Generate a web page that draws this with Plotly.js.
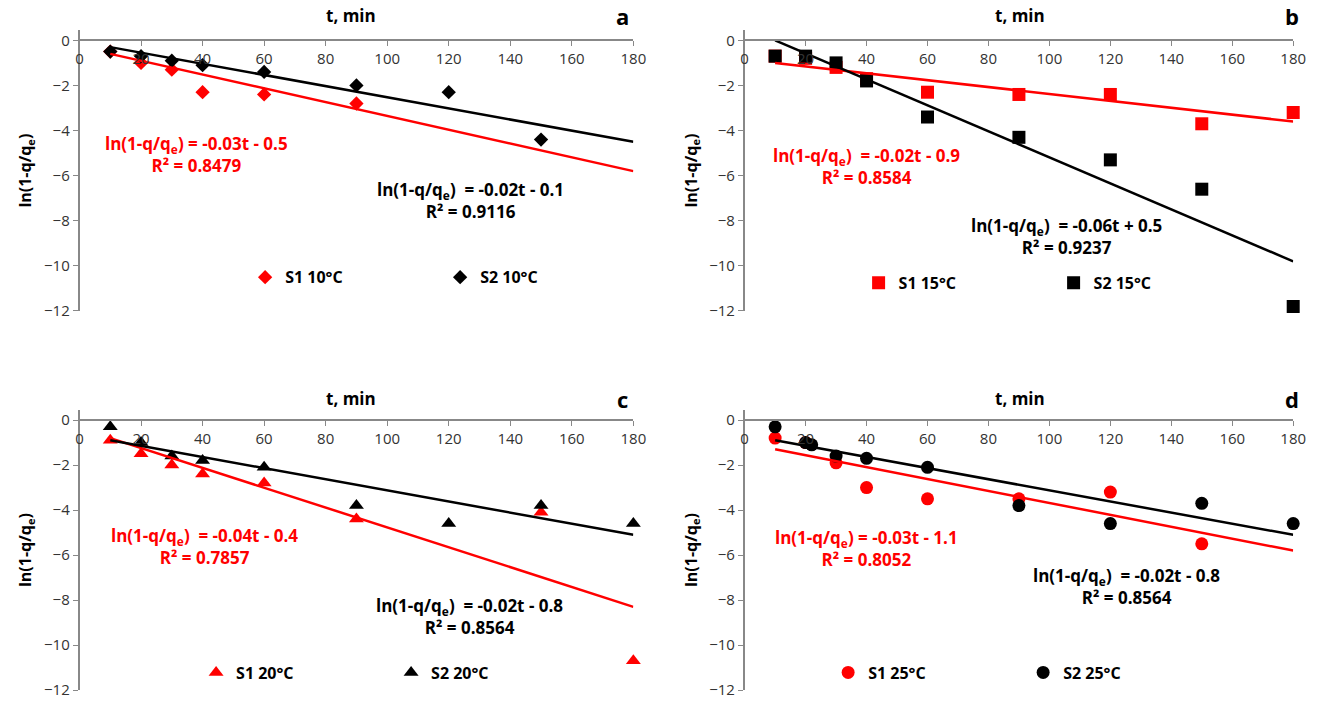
<!DOCTYPE html>
<html><head><meta charset="utf-8">
<script src="https://cdn.plot.ly/plotly-3.0.0.min.js"></script>
<style>body{margin:0}#graph{width:1325px;height:702px}</style>
</head><body><div id="graph"></div>
<script>
const tA1 = [10, 20, 30, 40, 60, 90];
const yA1 = [-0.5, -1.0, -1.3, -2.3, -2.4, -2.8];
const tA2 = [10, 20, 30, 40, 60, 90, 120, 150];
const yA2 = [-0.5, -0.7, -0.9, -1.1, -1.4, -2.0, -2.3, -4.4];
const tB = [10, 20, 30, 40, 60, 90, 120, 150, 180];
const yB1 = [-0.7, -0.8, -1.2, -1.7, -2.3, -2.4, -2.4, -3.7, -3.2];
const yB2 = [-0.7, -0.7, -1.0, -1.8, -3.4, -4.3, -5.3, -6.6, -11.8];
const tC1 = [10, 20, 30, 40, 60, 90, 150, 180];
const yC1 = [-0.9, -1.5, -2.0, -2.4, -2.8, -4.4, -4.1, -10.7];
const tC2 = [10, 20, 30, 40, 60, 90, 120, 150, 180];
const yC2 = [-0.3, -1.0, -1.6, -1.8, -2.1, -3.8, -4.6, -3.8, -4.6];
const tD1 = [10, 20, 30, 40, 60, 90, 120, 150];
const yD1 = [-0.8, -1.0, -1.9, -3.0, -3.5, -3.5, -3.2, -5.5];
const tD2 = [10, 20, 22, 30, 40, 60, 90, 120, 150, 180];
const yD2 = [-0.3, -1.0, -1.1, -1.6, -1.7, -2.1, -3.8, -4.6, -3.7, -4.6];
// trend line end points [t0, t1], [y0, y1]
const trendT = [10, 180];
const trA1 = [-0.6, -5.8], trA2 = [-0.3, -4.5];
const trB1 = [-1.0, -3.6], trB2 = [0.0, -9.8];
const trC1 = [-0.8, -8.3], trC2 = [-0.9, -5.1];
const trD1 = [-1.3, -5.8], trD2 = [-0.9, -5.1];
const xTicks = [0, 20, 40, 60, 80, 100, 120, 140, 160, 180];
const yTicks = [0, -2, -4, -6, -8, -10, -12];

const RED = "#ff0000", BLK = "#000000";
const traces = [];
function pts(x, y, name, color, symbol, ax, leg) {
  traces.push({x, y, name, type: "scatter", mode: "markers", xaxis: "x" + ax, yaxis: "y" + ax,
    legend: leg, marker: {color, symbol, size: symbol === "diamond" ? 11 : 13}, cliponaxis: false});
}
function line(y, color, ax) {
  traces.push({x: trendT, y, type: "scatter", mode: "lines", xaxis: "x" + ax, yaxis: "y" + ax,
    showlegend: false, line: {color, width: 2.5}});
}
pts(tA1, yA1, "S1 10°C", RED, "diamond", "", "legend");
pts(tA2, yA2, "S2 10°C", BLK, "diamond", "", "legend");
line(trA1, RED, ""); line(trA2, BLK, "");
pts(tB, yB1, "S1 15°C", RED, "square", "2", "legend2");
pts(tB, yB2, "S2 15°C", BLK, "square", "2", "legend2");
line(trB1, RED, "2"); line(trB2, BLK, "2");
pts(tC1, yC1, "S1 20°C", RED, "triangle-up", "3", "legend3");
pts(tC2, yC2, "S2 20°C", BLK, "triangle-up", "3", "legend3");
line(trC1, RED, "3"); line(trC2, BLK, "3");
pts(tD1, yD1, "S1 25°C", RED, "circle", "4", "legend4");
pts(tD2, yD2, "S2 25°C", BLK, "circle", "4", "legend4");
line(trD1, RED, "4"); line(trD2, BLK, "4");

const F = "Open Sans, Arial, sans-serif";
const yRange = [-12, 0.45];
const dom = {x1: [0.06, 0.478], x2: [0.562, 0.976], yt: [0.557, 0.957], yb: [0.017, 0.416]};
function zeroPos(d) { return d[0] + (d[1] - d[0]) * (12 / 12.45); }
function xa(d, yd, anchorY) {
  return {domain: d, range: [0, 180], tickvals: xTicks, anchor: "free", overlaying: undefined,
    position: zeroPos(yd), showline: true, linecolor: "#888", linewidth: 1.5, ticks: "outside", ticklen: 5,
    tickcolor: "#888", showgrid: false, zeroline: false, tickfont: {family: F, size: 15, color: "#333"}};
}
function ya(d, anchorX) {
  return {domain: d, range: yRange, tickvals: yTicks, anchor: anchorX, showline: true, linecolor: "#888",
    linewidth: 1.5, ticks: "outside", ticklen: 5, tickcolor: "#888", showgrid: false, zeroline: false,
    tickfont: {family: F, size: 15, color: "#333"},
    title: {text: "<b>ln(1-q/q<sub>e</sub>)</b>", font: {family: F, size: 16, color: "#000"}, standoff: 8}};
}
function leg(x, y) {
  return {x, y, xanchor: "left", yanchor: "middle", orientation: "h", bgcolor: "rgba(0,0,0,0)",
    font: {family: F, size: 16, color: "#000", weight: "bold"}, itemwidth: 30, tracegroupgap: 0, entrywidth: 150};
}
function ann(text, x, y, color, size, xref, yref) {
  return {text, x, y, xref: xref || "paper", yref: yref || "paper", showarrow: false,
    font: {family: F, size: size || 17, color: color || BLK}, xanchor: "center", yanchor: "middle"};
}
const annotations = [
  ann("<b>t, min</b>", 0.265, 0.978), ann("<b>t, min</b>", 0.77, 0.978),
  ann("<b>t, min</b>", 0.265, 0.432), ann("<b>t, min</b>", 0.77, 0.432),
  ann("<b>a</b>", 0.47, 0.977, BLK, 22), ann("<b>b</b>", 0.975, 0.977, BLK, 22),
  ann("<b>c</b>", 0.47, 0.432, BLK, 22), ann("<b>d</b>", 0.975, 0.432, BLK, 22),
  ann("<b>ln(1-q/q<sub>e</sub>) = -0.03t - 0.5<br>R² = 0.8479</b>", 0.148, 0.78, RED),
  ann("<b>ln(1-q/q<sub>e</sub>)  = -0.02t - 0.1<br>R² = 0.9116</b>", 0.355, 0.714, BLK),
  ann("<b>ln(1-q/q<sub>e</sub>)  = -0.02t - 0.9<br>R² = 0.8584</b>", 0.654, 0.763, RED),
  ann("<b>ln(1-q/q<sub>e</sub>)  = -0.06t + 0.5<br>R² = 0.9237</b>", 0.805, 0.663, BLK),
  ann("<b>ln(1-q/q<sub>e</sub>)  = -0.04t - 0.4<br>R² = 0.7857</b>", 0.154, 0.222, RED),
  ann("<b>ln(1-q/q<sub>e</sub>)  = -0.02t - 0.8<br>R² = 0.8564</b>", 0.354, 0.122, BLK),
  ann("<b>ln(1-q/q<sub>e</sub>) = -0.03t - 1.1<br>R² = 0.8052</b>", 0.654, 0.218, RED),
  ann("<b>ln(1-q/q<sub>e</sub>)  = -0.02t - 0.8<br>R² = 0.8564</b>", 0.85, 0.165, BLK)
];
const layout = {
  width: 1325, height: 702, margin: {l: 0, r: 0, t: 0, b: 0},
  paper_bgcolor: "#fff", plot_bgcolor: "rgba(0,0,0,0)", showlegend: true,
  xaxis: xa(dom.x1, dom.yt), yaxis: ya(dom.yt, "x"),
  xaxis2: xa(dom.x2, dom.yt), yaxis2: ya(dom.yt, "x2"),
  xaxis3: xa(dom.x1, dom.yb), yaxis3: ya(dom.yb, "x3"),
  xaxis4: xa(dom.x2, dom.yb), yaxis4: ya(dom.yb, "x4"),
  legend: leg(0.185, 0.605), legend2: leg(0.648, 0.597),
  legend3: leg(0.148, 0.042), legend4: leg(0.625, 0.042),
  annotations
};
Plotly.newPlot("graph", traces, layout, {displayModeBar: false});
</script></body></html>
